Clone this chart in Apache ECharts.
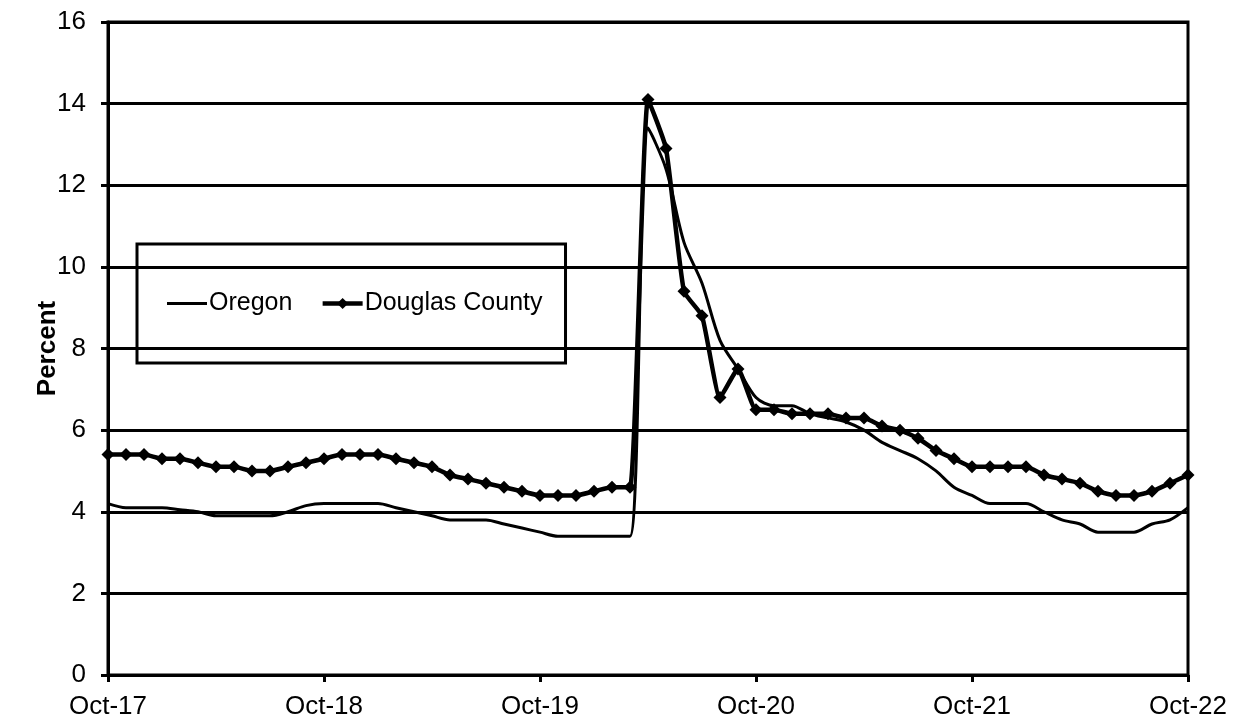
<!DOCTYPE html>
<html>
<head>
<meta charset="utf-8">
<script src="https://cdn.jsdelivr.net/npm/echarts@6/dist/echarts.min.js"></script>
<style>
html,body{margin:0;padding:0;background:#fff;}
#chart{width:1238px;height:724px;}
</style>
</head>
<body>
<div id="chart"></div>
<script>
var categories = [
"Oct-17","Nov-17","Dec-17","Jan-18","Feb-18","Mar-18","Apr-18","May-18","Jun-18","Jul-18","Aug-18","Sep-18",
"Oct-18","Nov-18","Dec-18","Jan-19","Feb-19","Mar-19","Apr-19","May-19","Jun-19","Jul-19","Aug-19","Sep-19",
"Oct-19","Nov-19","Dec-19","Jan-20","Feb-20","Mar-20","Apr-20","May-20","Jun-20","Jul-20","Aug-20","Sep-20",
"Oct-20","Nov-20","Dec-20","Jan-21","Feb-21","Mar-21","Apr-21","May-21","Jun-21","Jul-21","Aug-21","Sep-21",
"Oct-21","Nov-21","Dec-21","Jan-22","Feb-22","Mar-22","Apr-22","May-22","Jun-22","Jul-22","Aug-22","Sep-22",
"Oct-22"
];
var oregon = [
4.2,4.1,4.1,4.1,4.05,4.0,3.9,3.9,3.9,3.9,4.0,4.15,
4.2,4.2,4.2,4.2,4.1,4.0,3.9,3.8,3.8,3.8,3.7,3.6,
3.5,3.4,3.4,3.4,3.4,3.4,13.4,12.4,10.6,9.6,8.2,7.5,
6.8,6.6,6.6,6.4,6.3,6.2,6.0,5.7,5.5,5.3,5.0,4.6,
4.4,4.2,4.2,4.2,4.0,3.8,3.7,3.5,3.5,3.5,3.7,3.8,
4.1
];
var douglas = [
5.4,5.4,5.4,5.3,5.3,5.2,5.1,5.1,5.0,5.0,5.1,5.2,
5.3,5.4,5.4,5.4,5.3,5.2,5.1,4.9,4.8,4.7,4.6,4.5,
4.4,4.4,4.4,4.5,4.6,4.6,14.1,12.9,9.4,8.8,6.8,7.5,
6.5,6.5,6.4,6.4,6.4,6.3,6.3,6.1,6.0,5.8,5.5,5.3,
5.1,5.1,5.1,5.1,4.9,4.8,4.7,4.5,4.4,4.4,4.5,4.7,
4.9
];
var yTicks = {min:0, max:16, interval:2};

var chart = echarts.init(document.getElementById('chart'));
var font = 'Liberation Sans, Arial, sans-serif';
chart.setOption({
  animation:false,
  backgroundColor:'#fff',
  grid:{left:108,right:50,top:22,bottom:49,show:true,borderColor:'#000',borderWidth:3,backgroundColor:'transparent'},
  legend:{
    left:137, top:244, orient:'horizontal',
    padding:[47,23,47,30],
    borderColor:'#000', borderWidth:3,
    itemWidth:40, itemHeight:14, itemGap:28,
    textStyle:{fontFamily:font,fontSize:25,color:'#000',padding:[0,0,0,-3]},
    data:[
      {name:'Oregon', icon:'path://M0,0L0.001,0ZM0,5.5H40V8.5H0ZM0,14L0.001,14Z', itemStyle:{color:'#000'}},
      {name:'Douglas County', lineStyle:{color:'#000',width:4.5}}
    ]
  },
  xAxis:{
    type:'category', data:categories, boundaryGap:false,
    axisLine:{lineStyle:{color:'#000',width:3}},
    axisTick:{show:true,interval:11,length:7,lineStyle:{color:'#000',width:3}},
    axisLabel:{interval:11,fontFamily:font,fontSize:26,color:'#000',margin:19,showMaxLabel:true},
    splitLine:{show:false}
  },
  yAxis:{
    type:'value', min:yTicks.min, max:yTicks.max, interval:yTicks.interval,
    name:'Percent', nameLocation:'middle', nameGap:47, nameMoveOverlap:false,
    nameTextStyle:{fontFamily:font,fontSize:26,fontWeight:'bold',color:'#000'},
    axisLine:{show:true,lineStyle:{color:'#000',width:3}},
    axisTick:{show:true,length:7,lineStyle:{color:'#000',width:3}},
    axisLabel:{fontFamily:font,fontSize:26,color:'#000',margin:22},
    splitLine:{show:true,lineStyle:{color:'#000',width:3}}
  },
  series:[
    {name:'Oregon',type:'line',data:oregon,symbol:'none',smooth:0.3,
     lineStyle:{color:'#000',width:3},itemStyle:{color:'#000'}},
    {name:'Douglas County',type:'line',data:douglas,symbol:'diamond',symbolSize:13,showAllSymbol:true,smooth:0.15,
     lineStyle:{color:'#000',width:4.5},itemStyle:{color:'#000'}}
  ]
});
</script>
</body>
</html>
